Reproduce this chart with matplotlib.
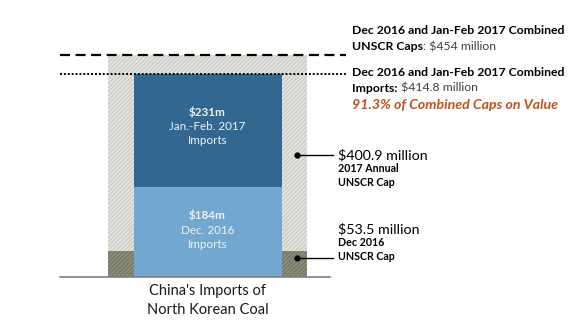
import matplotlib.pyplot as plt

plt.rcParams['font.family'] = ['Lato', 'DejaVu Sans']

# values in $ million
cap_dec2016 = 53.5
cap_2017 = 400.9
cap_combined = 454
imp_dec2016 = 184
imp_janfeb2017 = 231
imp_combined = 414.8
share_of_caps = 91.3

PX_PER_M = 0.489          # vertical scale: pixels per $ million
BASE_PX = 277             # pixel row of the baseline


def py(px):
    # pixel row -> value units on the y axis
    return (BASE_PX - px) / PX_PER_M


fig = plt.figure(figsize=(5.76, 3.23), dpi=100)
ax = fig.add_axes([0, 0, 1, 1])
ax.set_xlim(0, 576)
ax.set_ylim(py(323), py(0))
ax.axis('off')

plt.rcParams['hatch.linewidth'] = 0.5

# hatched cap bars
cx = 207.5
ax.bar(cx, cap_dec2016, width=199, bottom=0, color='#8c8c7a',
       edgecolor='#66665a', hatch='////////', linewidth=0)
ax.bar(cx, cap_2017, width=199, bottom=cap_dec2016, color='#e2e2de',
       edgecolor='#bdbdb7', hatch='////////', linewidth=0)
# import bars
ax.bar(cx, imp_dec2016, width=148, bottom=0, color='#72a7d0', linewidth=0)
ax.bar(cx, imp_janfeb2017, width=148, bottom=imp_dec2016, color='#32688f',
       linewidth=0)

# baseline
ax.plot([60, 330], [0, 0], color='#7f7f7f', lw=1.2)

# combined reference lines
ax.plot([60, 346], [cap_combined, cap_combined], color='black', lw=1.6,
        linestyle=(0, (4.5, 2.5)))
ax.plot([60, 346], [imp_combined, imp_combined], color='black', lw=1.4,
        linestyle=(0, (1, 1)))

tx = 352
fs = 8.8
ax.text(tx, py(31), 'Dec 2016 and Jan-Feb 2017 Combined', fontsize=fs,
        fontweight='bold', va='center', ha='left', color='black')
t = ax.text(tx, py(47), 'UNSCR Caps', fontsize=fs, fontweight='bold',
            va='center', ha='left', color='black')
ax.annotate(f': ${cap_combined:g} million', xycoords=t, xy=(1, 0.5),
            va='center', ha='left', fontsize=fs, color='#404040')

ax.text(tx, py(72), 'Dec 2016 and Jan-Feb 2017 Combined', fontsize=fs,
        fontweight='bold', va='center', ha='left', color='black')
t = ax.text(tx, py(88), 'Imports:', fontsize=fs, fontweight='bold',
            va='center', ha='left', color='black')
ax.annotate(f' ${imp_combined:g} million', xycoords=t, xy=(1, 0.5),
            va='center', ha='left', fontsize=fs, color='#404040')
ax.text(tx, py(105), f'{share_of_caps:g}% of Combined Caps on Value',
        fontsize=10.2, fontweight='bold', style='italic', va='center',
        ha='left', color='#c0501f')

# leader lines for the individual caps
for y in (py(155), py(258)):
    ax.plot([297, 333], [y, y], color='black', lw=1)
    ax.plot(297, y, 'o', color='black', ms=3.5)

big = 10.3
small = 7.7
ax.text(338, py(155), f'${cap_2017:g} million', fontsize=big, va='center',
        ha='left', color='black')
ax.text(338, py(169), '2017 Annual', fontsize=small, fontweight='bold',
        va='center', ha='left')
ax.text(338, py(182), 'UNSCR Cap', fontsize=small, fontweight='bold',
        va='center', ha='left')

ax.text(338, py(229), f'${cap_dec2016:g} million', fontsize=big, va='center',
        ha='left', color='black')
ax.text(338, py(243), 'Dec 2016', fontsize=small, fontweight='bold',
        va='center', ha='left')
ax.text(338, py(256), 'UNSCR Cap', fontsize=small, fontweight='bold',
        va='center', ha='left')

# labels inside the import bars
lab = '#eef3f8'
bfs = 8.4
ax.text(cx, py(112), f'${imp_janfeb2017}m', fontsize=bfs, fontweight='bold',
        color=lab, ha='center', va='center')
ax.text(cx, py(127), 'Jan.-Feb. 2017', fontsize=bfs, color=lab, ha='center',
        va='center')
ax.text(cx, py(141), 'Imports', fontsize=bfs, color=lab, ha='center',
        va='center')
ax.text(cx, py(215), f'${imp_dec2016}m', fontsize=bfs, fontweight='bold',
        color=lab, ha='center', va='center')
ax.text(cx, py(230), 'Dec. 2016', fontsize=bfs, color=lab, ha='center',
        va='center')
ax.text(cx, py(244), 'Imports', fontsize=bfs, color=lab, ha='center',
        va='center')

# category label
ax.text(cx, py(291), "China's Imports of", fontsize=10.5, ha='center',
        va='center', color='#1a1a1a')
ax.text(cx, py(310), 'North Korean Coal', fontsize=10.5, ha='center',
        va='center', color='#1a1a1a')

fig.savefig('out.png', dpi=100)
